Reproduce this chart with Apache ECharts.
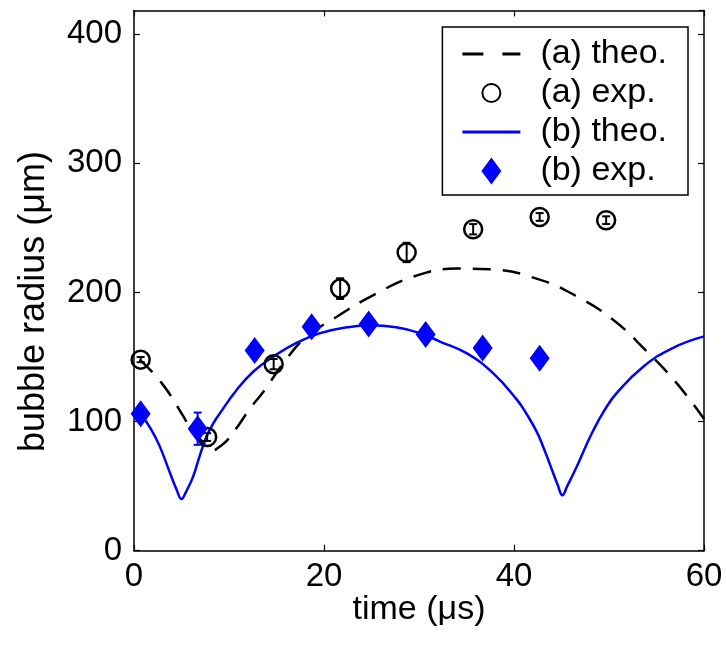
<!DOCTYPE html>
<html>
<head>
<meta charset="utf-8">
<script src="https://cdn.jsdelivr.net/npm/echarts@6/dist/echarts.min.js"></script>
<style>
  html, body { margin: 0; padding: 0; background: #fff; }
  #main { width: 726px; height: 646px; }
</style>
</head>
<body>
<div id="main"></div>
<script>
// (a) theory, dashed black
var aTheoT = [0.6, 2.9, 5.2, 6.1, 7.0, 7.8, 8.3, 8.9, 9.75, 10.8, 12.2, 13.6, 16.1, 18.2, 21.3, 25.2, 29.7, 34.0, 37.5, 42.7, 46.6, 50.4, 53.9, 57.1, 60];
var aTheoV = [148, 130, 104, 92, 86, 80, 77.5, 80, 85, 95, 110, 123, 149, 166, 181, 198, 213, 218.5, 218, 210, 197, 179, 155, 130, 102];
// (a) experiment, open circles
var aExpT = [0.7, 7.7, 14.7, 21.7, 28.7, 35.7, 42.7, 49.7];
var aExpV = [148, 88, 144.5, 203, 231, 249, 258.5, 256];
var aExpErr = [2, 3, 4, 8, 7.5, 4, 3, 3];
// (b) theory, solid blue
var bTheoT = [0.7, 1.8, 2.7, 3.8, 4.5, 5.0, 5.5, 6.2, 6.9, 7.6, 8.3, 9.0, 10.8, 12.6, 14.7, 17.1, 19.6, 22.4, 24.8, 27.6, 30.1, 32.2, 35.0, 37.8, 40.3, 41.4, 42.4, 43.1, 43.8, 44.6, 45.1, 45.6, 46.6, 47.5, 48.3, 49.5, 50.8, 53.6, 56.7, 60];
var bTheoV = [106, 94, 81, 60, 47, 40, 46, 57, 73, 88, 98, 106, 124.5, 139, 150.5, 161, 168.5, 173, 174.6, 173, 168.5, 162, 153, 137.5, 117, 105, 92, 80, 66.5, 51, 43, 50, 65, 80, 92.5, 108.5, 122, 142.5, 157, 166];
// (b) experiment, blue diamonds
var bExpT = [0.7, 6.7, 12.7, 18.7, 24.7, 30.7, 36.7, 42.7];
var bExpV = [106, 94.5, 155, 173.5, 175.5, 167.5, 157, 149];
var bExpErr = [3, 12.5, 3, 3, 4, 4, 3, 3];

var xTicks = [0, 20, 40, 60];
var yTicks = [0, 100, 200, 300, 400];

function pairs(t, v) {
    return t.map(function (x, i) { return [x, v[i]]; });
}
function errs(t, v, e) {
    return t.map(function (x, i) { return [x, v[i] - e[i], v[i] + e[i]]; });
}
function errorBar(color) {
    return function (params, api) {
        var lo = api.coord([api.value(0), api.value(1)]);
        var hi = api.coord([api.value(0), api.value(2)]);
        var w = 4;
        var st = { stroke: color, lineWidth: 2 };
        return {
            type: 'group',
            children: [
                { type: 'line', shape: { x1: lo[0], y1: lo[1], x2: hi[0], y2: hi[1] }, style: st },
                { type: 'line', shape: { x1: lo[0] - w, y1: lo[1], x2: lo[0] + w, y2: lo[1] }, style: st },
                { type: 'line', shape: { x1: hi[0] - w, y1: hi[1], x2: hi[0] + w, y2: hi[1] }, style: st }
            ]
        };
    };
}

var font = "'Liberation Sans', Arial, Helvetica, sans-serif";
var chart = echarts.init(document.getElementById('main'));

var axisBase = {
    type: 'value',
    axisLine: { show: true, onZero: false, lineStyle: { color: '#000', width: 1.5 } },
    axisTick: { show: true, inside: true, length: 6, lineStyle: { color: '#000', width: 1.2 } },
    splitLine: { show: false }
};

chart.setOption({
    animation: false,
    backgroundColor: '#fff',
    textStyle: { fontFamily: font, color: '#000' },
    grid: { left: 134, right: 22, top: 10.4, bottom: 95.3, containLabel: false },
    xAxis: [
        Object.assign({}, axisBase, {
            min: 0, max: 60, interval: 20,
            position: 'bottom',
            name: 'time (\u03bcs)',
            nameLocation: 'middle',
            nameGap: 42,
            nameMoveOverlap: false,
            nameTextStyle: { fontSize: 34, color: '#000', fontFamily: font, verticalAlign: 'top' },
            axisLabel: {
                fontSize: 33, color: '#000', fontFamily: font, margin: 10,
                formatter: function (v) { return xTicks.indexOf(v) >= 0 ? String(v) : ''; }
            }
        }),
        Object.assign({}, axisBase, {
            min: 0, max: 60, interval: 20,
            position: 'top',
            axisLabel: { show: false }
        })
    ],
    yAxis: [
        Object.assign({}, axisBase, {
            min: 0, max: 418.5, interval: 100,
            position: 'left',
            name: 'bubble radius (\u03bcm)',
            nameLocation: 'middle',
            nameGap: 82,
            nameMoveOverlap: false,
            nameTextStyle: { fontSize: 36, color: '#000', fontFamily: font, padding: [0, 42, 0, 0] },
            axisLabel: {
                fontSize: 33, color: '#000', fontFamily: font, margin: 12, showMaxLabel: false,
                formatter: function (v) { return yTicks.indexOf(v) >= 0 ? String(v) : ''; }
            }
        }),
        Object.assign({}, axisBase, {
            min: 0, max: 418.5, interval: 100,
            position: 'right',
            axisLabel: { show: false }
        })
    ],
    legend: {
        orient: 'vertical',
        right: 38,
        top: 27,
        padding: [10, 21, 7, 20],
        itemGap: 5,
        itemWidth: 58,
        itemHeight: 27,
        borderColor: '#000',
        borderWidth: 1.5,
        backgroundColor: '#fff',
        textStyle: { fontSize: 34, color: '#000', fontFamily: font, padding: [0, 0, 0, 15] },
        data: [
            { name: '(a) theo.', icon: 'path://M0,0h21v3h-21z M40,0h18v3h-18z', itemStyle: { color: '#000' } },
            { name: '(a) exp.', icon: 'path://M0,0M27,27M22.5,13.5A9,9,0,1,1,4.5,13.5A9,9,0,1,1,22.5,13.5Z' },
            { name: '(b) theo.', icon: 'path://M0,0h58v3h-58z', itemStyle: { color: '#0000ff' } },
            { name: '(b) exp.', icon: 'path://M10,0L20,13.5L10,27L0,13.5Z' }
        ]
    },
    series: [
        {
            name: '(a) theo.',
            type: 'line',
            data: pairs(aTheoT, aTheoV),
            smooth: 0.45,
            symbol: 'none',
            lineStyle: { color: '#000', width: 2.5, type: [18, 12] },
            itemStyle: { color: '#000' },
            z: 2
        },
        {
            name: '(b) theo.',
            type: 'line',
            data: pairs(bTheoT, bTheoV),
            smooth: 0.45,
            symbol: 'none',
            lineStyle: { color: '#0000ff', width: 2.5 },
            itemStyle: { color: '#0000ff' },
            z: 2
        },
        {
            name: 'aErr',
            type: 'custom',
            renderItem: errorBar('#000'),
            data: errs(aExpT, aExpV, aExpErr),
            encode: { x: 0, y: [1, 2] },
            z: 3
        },
        {
            name: '(a) exp.',
            type: 'scatter',
            data: pairs(aExpT, aExpV),
            symbol: 'circle',
            symbolSize: 18,
            itemStyle: { color: 'rgba(0,0,0,0)', borderColor: '#000', borderWidth: 2.5, opacity: 1 },
            z: 4
        },
        {
            name: 'bErr',
            type: 'custom',
            renderItem: errorBar('#0000ff'),
            data: errs(bExpT, bExpV, bExpErr),
            encode: { x: 0, y: [1, 2] },
            z: 3
        },
        {
            name: '(b) exp.',
            type: 'scatter',
            data: pairs(bExpT, bExpV),
            symbol: 'diamond',
            symbolSize: [20, 27],
            itemStyle: { color: '#0000ff', opacity: 1 },
            z: 4
        }
    ]
});
</script>
</body>
</html>
